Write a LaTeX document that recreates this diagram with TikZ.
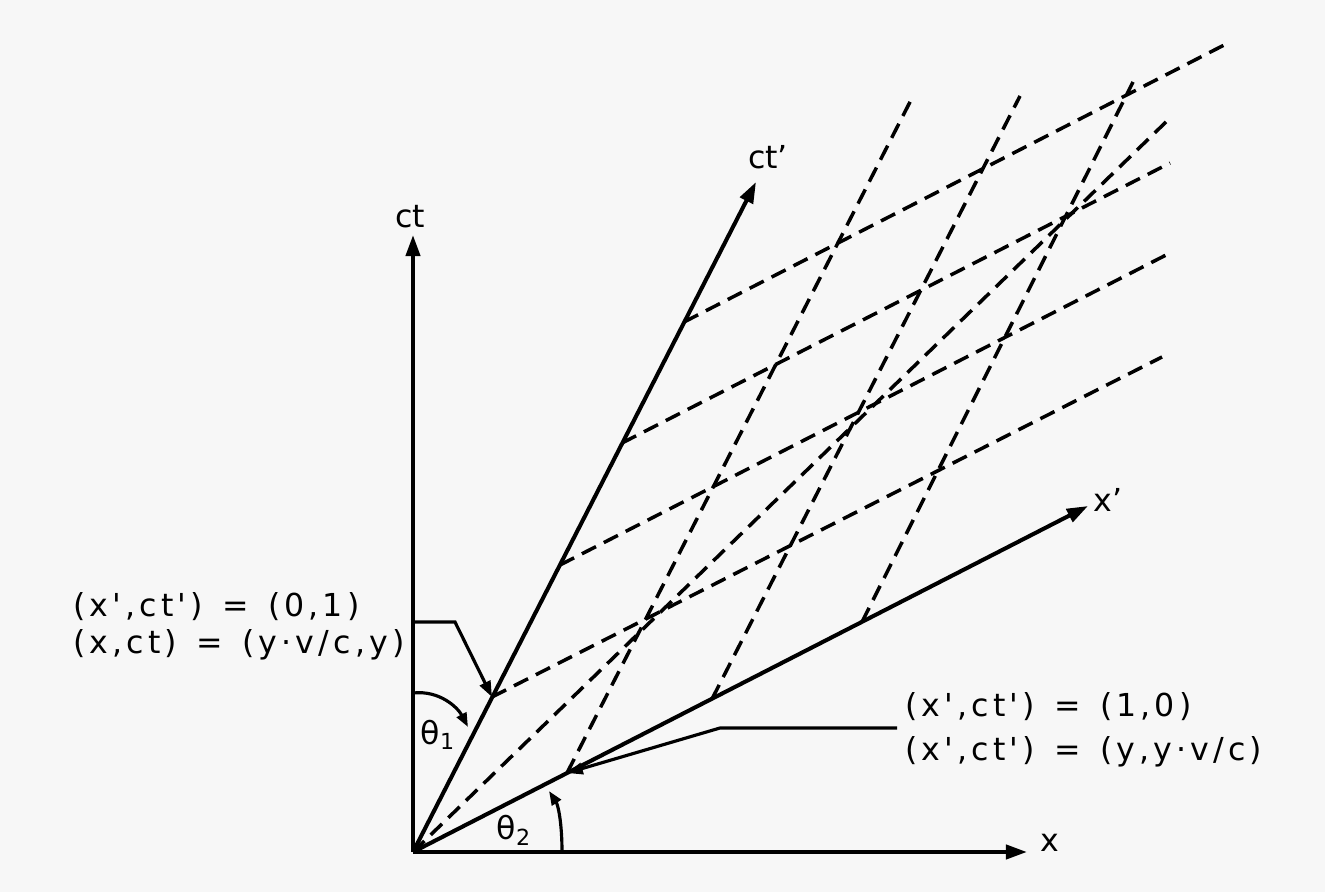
\documentclass[tikz,border=0pt]{standalone}
\usepackage{fontspec}
\setmainfont{DejaVu Sans}
\newfontfamily\lab[LetterSpace=13]{DejaVu Sans}
\usetikzlibrary{arrows.meta}
\definecolor{bg}{RGB}{247,247,247}
\begin{document}
\begin{tikzpicture}[x=0.02cm,y=-0.02cm,
  axis/.style={line width=2.3pt,-{Triangle[length=12pt,width=8pt]}},
  gridline/.style={line width=2pt,dash pattern=on 9pt off 5pt},
  leader/.style={line width=1.8pt,-{Triangle[length=9pt,width=6.5pt]}},
  anglearrow/.style={line width=1.8pt,-{Triangle[length=8pt,width=6pt]}},
  lbl/.style={inner sep=0pt,anchor=west,font=\lab\fontsize{18}{21}\selectfont},
  alab/.style={inner sep=0pt,font=\fontsize{18}{21}\selectfont}]
\fill[bg] (0,0) rectangle (1325,892);
\useasboundingbox (0,0) rectangle (1325,892);
% axes points
\coordinate (O) at (413,852);
\coordinate (ctTip) at (413,235);
\coordinate (xTip) at (1027,852);
\coordinate (ctpTip) at (756,182);
\coordinate (xpTip) at (1088,506);
% grid points on ct'
\coordinate (P1) at (492,697);
\coordinate (P2) at (560,565);
\coordinate (P3) at (622,443);
\coordinate (P4) at (684,322);
\coordinate (P1e) at (1162,357);
\coordinate (P2e) at (1170,253);
\coordinate (P3e) at (1170,163);
\coordinate (P4e) at (1230,42);
% grid points on x'
\coordinate (Q1) at (567,773);
\coordinate (Q2) at (712,699);
\coordinate (Q3) at (862,622);
\coordinate (Q1e) at (911,100);
\coordinate (Q2e) at (1020,96);
\coordinate (Q3e) at (1133,82);
\coordinate (Le) at (1168,120);
% dashed grid
\draw[gridline] (P1) -- (P1e);
\draw[gridline] (P2) -- (P2e);
\draw[gridline] (P3) -- (P3e);
\draw[gridline] (P4) -- (P4e);
\draw[gridline] (Q1) -- (Q1e);
\draw[gridline] (Q2) -- (Q2e);
\draw[gridline] (Q3) -- (Q3e);
\draw[gridline] (O) -- (Le);
% axes
\draw[axis] (O) -- (ctTip);
\draw[axis] (O) -- (xTip);
\draw[axis] (O) -- (ctpTip);
\draw[axis] (O) -- (xpTip);
\node[alab] (lct) at (410,217) {ct};
\node[alab] (lx) at (1050,843) {x};
\node[alab] (lctp) at (768,157) {ct'};
\node[alab] (lxp) at (1108,500) {x'};
% labels
\node[lbl] (t1) at (73,607) {(x',ct')\, = \,(0,1)};
\node[lbl] (t2) at (73,645) {(x,ct)\, = \,(y·v/c,y)};
\node[lbl] (t3) at (905,707) {(x',ct')\, = \,(1,0)};
\node[lbl] (t4) at (905,752) {(x',ct')\, = \,(y,y·v/c)};
% leaders
\coordinate (L1a) at (413,622);
\coordinate (L1b) at (455,622);
\coordinate (L2a) at (897,728);
\coordinate (L2b) at (720,728);
\draw[leader] (L1a) -- (L1b) -- (P1);
\draw[leader] (L2a) -- (L2b) -- (Q1);
% angle arrows
\coordinate (A1s) at (413,693);
\coordinate (A1e) at (468,727);
\coordinate (A2s) at (562,852);
\coordinate (A2e) at (549,791);
\draw[anglearrow] (A1s) .. controls (440,690) and (458,708) .. (A1e);
\draw[anglearrow] (A2s) .. controls (562,822) and (558,805) .. (A2e);
\node[alab] (th1) at (438,735) {θ\textsubscript{1}};
\node[alab] (th2) at (514,830) {θ\textsubscript{2}};
\end{tikzpicture}
\end{document}
